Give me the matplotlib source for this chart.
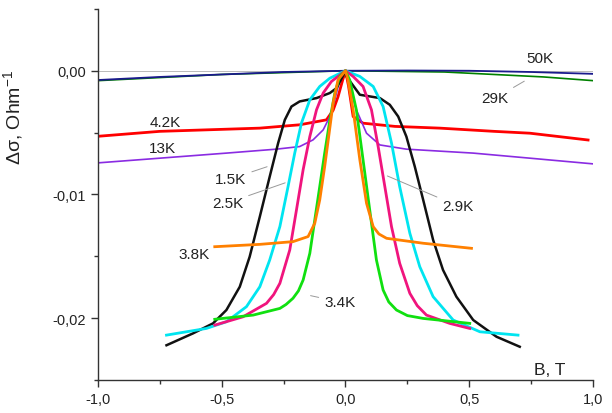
import matplotlib
matplotlib.use("Agg")
import matplotlib.pyplot as plt

plt.rcParams['font.family'] = ['Liberation Sans', 'DejaVu Sans']
plt.rcParams['mathtext.default'] = 'regular'

# --- данные ---
b_50K = [-1.0, -0.75, -0.5, -0.25, 0.0, 0.25, 0.5, 0.75, 1.0]
s_50K = [-0.00075, -0.0005, -0.0003, -0.0001, 0.0, 0.00002, 0.0, -0.0001, -0.00025]

b_29K = [-1.0, -0.5, 0.0, 0.4, 0.6, 0.8, 1.0]
s_29K = [-0.0008, -0.0003, 0.0, -0.0001, -0.0003, -0.0005, -0.0008]

b_42K = [-1.0, -0.75, -0.346, -0.185, -0.077, -0.05, -0.03, -0.012, 0.0,
         0.012, 0.031, 0.071, 0.2, 0.381, 0.6, 0.745, 0.98]
s_42K = [-0.0053, -0.0049, -0.00464, -0.00437, -0.00397, -0.0032, -0.0021, -0.0008, 0.0,
         -0.0012, -0.0037, -0.00424, -0.0045, -0.00464, -0.0049, -0.00505, -0.0056]

b_13K = [-1.0, -0.75, -0.481, -0.279, -0.185, -0.131, -0.09, -0.063, -0.043, -0.023, 0.0,
         0.02, 0.044, 0.085, 0.139, 0.246, 0.516, 0.745, 1.0]
s_13K = [-0.00745, -0.00707, -0.00666, -0.00634, -0.00613, -0.00559, -0.00478, -0.0037, -0.00235, -0.00073, 0.0,
         -0.0015, -0.00316, -0.00505, -0.006, -0.00634, -0.00666, -0.00707, -0.00753]

b_15K = [-0.723, -0.616, -0.535, -0.481, -0.427, -0.387, -0.346, -0.306, -0.272, -0.245, -0.218,
         -0.185, -0.117, -0.063, -0.036, 0.0, 0.004, 0.058, 0.139, 0.179, 0.213, 0.246, 0.28,
         0.314, 0.354, 0.394, 0.448, 0.516, 0.61, 0.704]
s_15K = [-0.0222, -0.02124, -0.02043, -0.01935, -0.01747, -0.01504, -0.0118, -0.00856, -0.00585, -0.00397, -0.00289,
         -0.00248, -0.00221, -0.0018, -0.0014, 0.0, -0.00046, -0.00194, -0.00221, -0.00275, -0.0037, -0.00532, -0.00775,
         -0.01045, -0.01368, -0.01611, -0.01827, -0.02016, -0.02151, -0.02232]

b_25K = [-0.723, -0.562, -0.481, -0.4, -0.346, -0.306, -0.265, -0.232, -0.205, -0.178, -0.144, -0.104, -0.063, 0.0,
         0.058, 0.112, 0.152, 0.186, 0.219, 0.26, 0.3, 0.354, 0.435, 0.543, 0.697]
s_25K = [-0.02138, -0.02084, -0.0203, -0.01908, -0.01747, -0.0153, -0.0126, -0.00937, -0.00666, -0.00424, -0.00235, -0.00127, -0.0006, 0.0,
         -0.00046, -0.00127, -0.00289, -0.00585, -0.00937, -0.01314, -0.01584, -0.01827, -0.02016, -0.02111, -0.02138]

b_29Kb = [-0.528, -0.414, -0.319, -0.29, -0.265, -0.225, -0.198, -0.171, -0.144, -0.117, -0.09, -0.057, 0.0,
          0.031, 0.071, 0.105, 0.132, 0.159, 0.186, 0.219, 0.26, 0.29, 0.327, 0.421, 0.502]
s_29Kb = [-0.02057, -0.0199, -0.01881, -0.0181, -0.01719, -0.01449, -0.01126, -0.008, -0.00532, -0.00316, -0.0018, -0.00087, 0.0,
          -0.00046, -0.00127, -0.00316, -0.00613, -0.00937, -0.01261, -0.01557, -0.018, -0.0190, -0.01976, -0.02043, -0.02084]

b_34K = [-0.528, -0.373, -0.265, -0.24, -0.212, -0.19, -0.171, -0.144, -0.124, -0.104, -0.084, -0.063, -0.043, -0.023, 0.0,
         0.017, 0.044, 0.071, 0.098, 0.125, 0.152, 0.175, 0.206, 0.25, 0.314, 0.502]
s_34K = [-0.0201, -0.01976, -0.01922, -0.0189, -0.0184, -0.0178, -0.01692, -0.01476, -0.01206, -0.00937, -0.00666, -0.00397, -0.0018, -0.00046, 0.0,
         -0.00073, -0.00316, -0.0072, -0.01126, -0.0153, -0.01773, -0.0187, -0.01935, -0.0198, -0.02003, -0.02043]

b_38K = [-0.528, -0.346, -0.212, -0.151, -0.124, -0.104, -0.084, -0.066, -0.05, -0.03, 0.0,
         0.01, 0.031, 0.058, 0.085, 0.112, 0.135, 0.166, 0.314, 0.509]
s_38K = [-0.01423, -0.01404, -0.01382, -0.01341, -0.01233, -0.01045, -0.00775, -0.00505, -0.00262, -0.00073, 0.0,
         -0.00073, -0.00316, -0.0072, -0.01071, -0.01261, -0.0132, -0.01355, -0.01395, -0.01436]

xticks = [-1.0, -0.5, 0.0, 0.5, 1.0]
xtick_labels = ['-1,0', '-0,5', '0,0', '0,5', '1,0']
yticks = [-0.02, -0.01, 0.0]
ytick_labels = ['-0,02', '-0,01', '0,00']

fig = plt.figure(figsize=(6.12, 4.14), dpi=100)
ax = fig.add_axes([0.160, 0.080, 0.809, 0.896])

ax.axhline(0, color='#b0b0b0', lw=0.6, zorder=1)

ax.plot(b_29K, s_29K, color='#008000', lw=1.2)
ax.plot(b_50K, s_50K, color='#1a1a8c', lw=1.3)
ax.plot(b_42K, s_42K, color='#ff0000', lw=2.0)
ax.plot(b_13K, s_13K, color='#8a2be2', lw=1.2)
ax.plot(b_15K, s_15K, color='#111111', lw=1.8)
ax.plot(b_25K, s_25K, color='#00e5f0', lw=2.0)
ax.plot(b_29Kb, s_29Kb, color='#f0147d', lw=2.0)
ax.plot(b_34K, s_34K, color='#10e010', lw=2.0)
ax.plot(b_38K, s_38K, color='#ff8000', lw=2.0)

ax.set_xlim(-1.0, 1.0)
ax.set_ylim(-0.025, 0.005)
ax.set_xticks(xticks)
ax.set_xticklabels(xtick_labels)
ax.set_xticks([-0.75, -0.25, 0.25, 0.75], minor=True)
ax.set_yticks(yticks)
ax.set_yticklabels(ytick_labels)
ax.set_yticks([-0.025, -0.015, -0.005, 0.005], minor=True)

for s in ['top', 'right']:
    ax.spines[s].set_visible(False)
for s in ['left', 'bottom']:
    ax.spines[s].set_color('#333333')
    ax.spines[s].set_linewidth(1.0)
ax.tick_params(which='major', direction='out', length=5, width=1, colors='#333333',
               labelsize=10.5, labelcolor='#222222')
ax.tick_params(which='minor', direction='out', length=3, width=1, colors='#333333')

ax.set_ylabel('Δσ, Ohm$^{-1}$', fontsize=14, color='#222222')
ax.yaxis.set_label_coords(-0.147, 0.71)
ax.text(0.913, 0.027, 'B, T', transform=ax.transAxes, fontsize=12.5, color='#222222',
        ha='center', va='center')

# подписи кривых
lab = dict(fontsize=11, color='#222222', ha='center', va='center')
lead = dict(arrowstyle='-', color='#999999', lw=0.7)
ax.text(0.785, 0.00105, '50K', **lab)
ax.annotate('29K', xy=(0.732, -0.00073), xytext=(0.603, -0.00223), arrowprops=lead, **lab)
ax.text(-0.726, -0.00413, '4.2K', **lab)
ax.text(-0.738, -0.00623, '13K', **lab)
ax.annotate('1.5K', xy=(-0.306, -0.00769), xytext=(-0.463, -0.00874), arrowprops=lead, **lab)
ax.annotate('2.5K', xy=(-0.233, -0.00899), xytext=(-0.476, -0.01069), arrowprops=lead, **lab)
ax.annotate('2.9K', xy=(0.159, -0.00842), xytext=(0.454, -0.01093), arrowprops=lead, **lab)
ax.text(-0.613, -0.01482, '3.8K', **lab)
ax.annotate('3.4K', xy=(-0.152, -0.01814), xytext=(-0.023, -0.0187), arrowprops=lead, **lab)

fig.savefig('out.png', dpi=100, facecolor='white')
